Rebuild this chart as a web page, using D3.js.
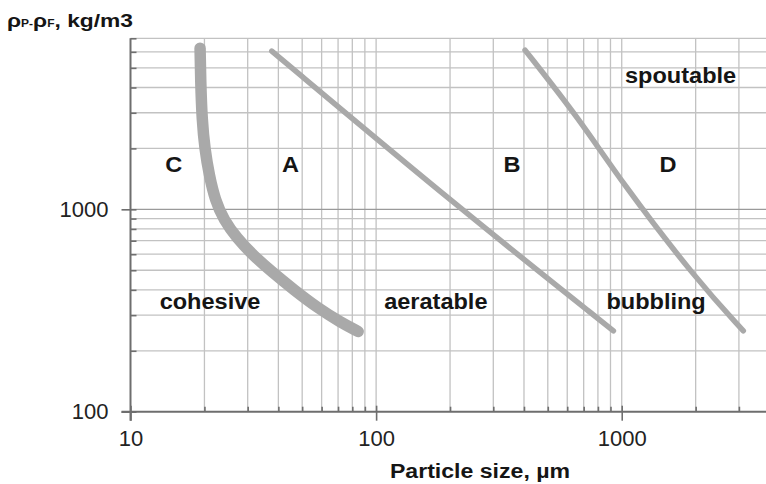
<!DOCTYPE html>
<html>
<head>
<meta charset="utf-8">
<script src="https://cdn.jsdelivr.net/npm/d3@7"></script>
<style>
  html, body { margin: 0; padding: 0; background: #fff; }
  svg { display: block; }
  text { font-family: "Liberation Sans", Arial, Helvetica, sans-serif; }
</style>
</head>
<body>
<svg id="chart" width="766" height="484"></svg>
<script>
// Geldart powder classification: density difference vs. mean particle size

// Axis ticks and grid values
const xMajorTicks = [10, 100, 1000];
const xGridValues = [20, 30, 40, 50, 60, 70, 80, 90, 100, 200, 300, 400, 500, 600, 700, 800, 900, 1000, 2000, 3000];
const yMajorTicks = [100, 1000];
const yGridValues = [200, 300, 400, 500, 600, 700, 800, 900, 1000, 2000, 3000, 4000, 5000, 6000, 7000];

// Boundary C/A (cohesive / aeratable)
const boundaryCA_size    = [19.2, 19.3, 19.55, 20.1, 20.9, 22.1, 24.0, 27.1, 31.5, 37.7, 46.3, 58.0, 71.3, 84.5];
const boundaryCA_density = [6250, 4350, 2760, 1960, 1480, 1110, 885, 721, 594, 490, 400, 325, 278, 249];

// Boundary A/B (aeratable / bubbling)
const boundaryAB_size    = [37.6, 220, 925];
const boundaryAB_density = [6050, 1005, 251];

// Boundary B/D (bubbling / spoutable)
const boundaryBD_size    = [404, 677, 984, 2020, 3127];
const boundaryBD_density = [6120, 2760, 1395, 447, 251];

// Group letters and names, anchored in data units
const labelText = ["C", "A", "B", "D", "spoutable", "cohesive", "aeratable", "bubbling"];
const labelSize = [15.0, 44.8, 357.6, 1543, 1736, 21.07, 175, 1380];
const labelDensity = [1529, 1529, 1529, 1529, 4232, 321.7, 321.7, 321.7];

const svg = d3.select("#chart");

const x = d3.scaleLog().domain([10, 4000]).range([130.5, 769.6]);
const y = d3.scaleLog().domain([100, 7000]).range([411.7, 38.3]);

const gridColor = "#c2c2c2";
const axisColor = "#6e6e6e";
const curveColor = "#a9a9a9";

// Grid
const grid = svg.append("g");
grid.selectAll("line.vx").data(xGridValues).join("line")
  .attr("x1", d => x(d)).attr("x2", d => x(d))
  .attr("y1", y(7000)).attr("y2", y(100))
  .attr("stroke", gridColor).attr("stroke-width", 1.3);
grid.selectAll("line.hy").data(yGridValues).join("line")
  .attr("x1", x(10)).attr("x2", x(4000))
  .attr("y1", d => y(d)).attr("y2", d => y(d))
  .attr("stroke", d => d === 1000 ? "#9a9a9a" : gridColor)
  .attr("stroke-width", 1.3);

// Axes (log scale ticks: minor ticks point inward, decade ticks cross the axis)
const xAxisMinor = d3.axisBottom(x).tickValues(xGridValues.filter(v => !xMajorTicks.includes(v)))
  .tickSize(-5).tickFormat("");
const xAxisMajor = d3.axisBottom(x).tickValues(xMajorTicks).tickSize(9).tickSizeOuter(0).tickPadding(10)
  .tickFormat(d3.format("d"));

const gx = svg.append("g").attr("transform", `translate(0,${y(100)})`);
gx.append("g").call(xAxisMinor).call(g => g.select(".domain").remove());
gx.append("g").call(xAxisMajor);
gx.selectAll(".tick line").attr("stroke", axisColor).attr("stroke-width", 1.6);
gx.selectAll(".domain").attr("stroke", axisColor).attr("stroke-width", 2)
  .attr("d", `M${x(10) - 9},0H${x(4000)}`);
gx.selectAll(".tick").filter(d => xMajorTicks.includes(d)).select("line").attr("y1", -6);
gx.selectAll(".tick text")
  .attr("font-size", 22).attr("fill", "#222").attr("font-family", "Liberation Sans, Arial, sans-serif");

const yAxisMinor = d3.axisLeft(y).tickValues(yGridValues.filter(v => !yMajorTicks.includes(v)))
  .tickSize(-6).tickFormat("");
const yAxisMajor = d3.axisLeft(y).tickValues(yMajorTicks).tickSize(9).tickSizeOuter(0).tickPadding(13)
  .tickFormat(d3.format("d"));

const gy = svg.append("g").attr("transform", `translate(${x(10)},0)`);
gy.append("g").call(yAxisMinor).call(g => g.select(".domain").remove());
gy.append("g").call(yAxisMajor);
gy.selectAll(".tick line").attr("stroke", axisColor).attr("stroke-width", 1.6);
gy.selectAll(".domain").attr("stroke", axisColor).attr("stroke-width", 2)
  .attr("d", `M0,${y(7000)}V${y(100) + 9}`);
gy.selectAll(".tick").filter(d => yMajorTicks.includes(d)).select("line").attr("x1", 6);
gy.selectAll(".tick text")
  .attr("font-size", 22).attr("fill", "#222").attr("font-family", "Liberation Sans, Arial, sans-serif");

// Boundary curves, smoothed through the read-off points
const line = d3.line().x(d => x(d[0])).y(d => y(d[1])).curve(d3.curveBasis);

const boundaries = [
  { pts: d3.zip(boundaryCA_size, boundaryCA_density), w: 11.5 },
  { pts: d3.zip(boundaryAB_size, boundaryAB_density), w: 5.5 },
  { pts: d3.zip(boundaryBD_size, boundaryBD_density), w: 5.5 }
];
svg.append("g").selectAll("path").data(boundaries).join("path")
  .attr("d", d => line(d.pts))
  .attr("fill", "none")
  .attr("stroke", curveColor)
  .attr("stroke-width", d => d.w)
  .attr("stroke-linecap", "round")
  .attr("stroke-linejoin", "round");

// Group labels
svg.append("g").selectAll("text").data(d3.range(labelText.length)).join("text")
  .attr("transform", i => `translate(${x(labelSize[i])},${y(labelDensity[i])}) scale(1.07,1)`)
  .attr("text-anchor", "middle")
  .attr("font-size", 22)
  .attr("font-weight", "bold")
  .attr("fill", "#151515")
  .text(i => labelText[i]);

// Axis titles
svg.append("text")
  .attr("transform", "translate(480,478) scale(1.1,1)")
  .attr("text-anchor", "middle")
  .attr("font-size", 21)
  .attr("font-weight", "bold")
  .attr("fill", "#151515")
  .text("Particle size, \u00b5m");

const yTitle = svg.append("text")
  .attr("transform", "translate(7,26.7) scale(1.2,1)")
  .attr("font-weight", "bold")
  .attr("fill", "#151515");
yTitle.append("tspan").attr("font-size", 19).text("\u03c1");
yTitle.append("tspan").attr("font-size", 10).text("P-");
yTitle.append("tspan").attr("font-size", 19).text("\u03c1");
yTitle.append("tspan").attr("font-size", 10).text("F");
yTitle.append("tspan").attr("font-size", 19).text(", kg/m3");
</script>
</body>
</html>
